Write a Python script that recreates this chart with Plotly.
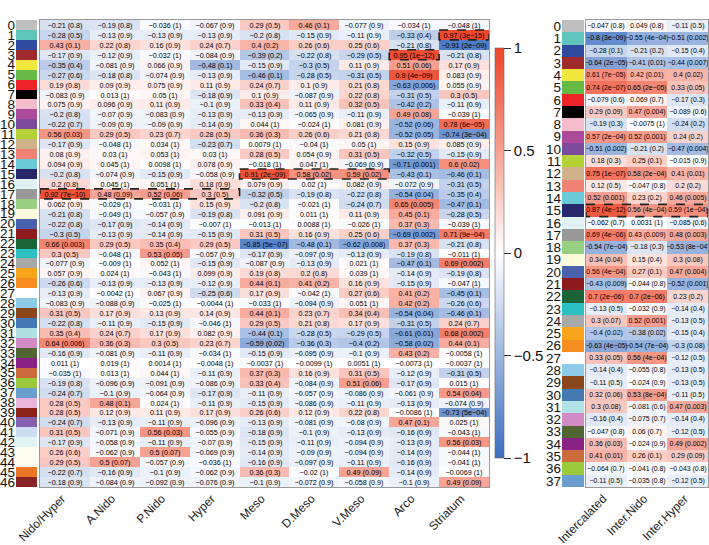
import plotly.graph_objects as go

FONT = "Liberation Sans, Arial, sans-serif"

left_cols = ["Nido/Hyper", "A.Nido", "P.Nido", "Hyper", "Meso", "D.Meso", "V.Meso", "Arco", "Striatum"]
right_cols = ["Intercalated", "Inter.Nido", "Inter.Hyper"]

module_colors = [
    "#BEBEBE", "#5EC4BC", "#2F4B9F", "#9E2A2B", "#F1E63C", "#66BB47", "#EC2227", "#000000",
    "#F4BCCD", "#AE4A9C", "#7D4A9E", "#B4D235", "#D0B38A", "#F08174", "#6ACBD6", "#27286B",
    "#E0F2F4", "#999999", "#99CF81", "#FEFADC", "#4A62AD", "#8C1A1E", "#1A6535", "#2DC0C2",
    "#A8A8A8", "#F9A51C", "#F68B1F", "#FFFFFF", "#8ECBE8", "#8B461B", "#4479B3", "#B2E1E3",
    "#D08BC4", "#506530", "#8A2286", "#CD6B3C", "#9ACA3C", "#6A9ECF", "#EAB4DA", "#8A2418",
    "#8462B0", "#CBDDF3", "#DFF3F2", "#FEFEF0", "#FFFBEF", "#EC7625", "#8A2323",
]

left_r = [
    [-0.21, -0.19, -0.036, -0.067, 0.29, 0.46, -0.077, -0.034, -0.048],
    [-0.28, -0.13, -0.13, -0.13, -0.2, -0.15, -0.11, -0.33, 0.97],
    [0.43, 0.22, 0.16, 0.24, 0.4, 0.26, 0.25, -0.21, -0.91],
    [-0.17, -0.12, -0.032, -0.084, -0.39, -0.22, -0.29, 0.95, -0.21],
    [-0.35, -0.081, 0.066, -0.48, -0.15, -0.3, 0.11, 0.51, 0.17],
    [-0.27, -0.18, -0.074, -0.13, -0.46, -0.28, -0.31, 0.9, 0.083],
    [0.19, 0.09, 0.075, 0.11, 0.24, 0.1, 0.21, -0.63, 0.055],
    [-0.083, 0.013, 0.05, -0.18, 0.1, -0.087, 0.22, -0.31, 0.3],
    [0.075, 0.096, 0.11, -0.1, 0.33, 0.11, 0.32, -0.42, -0.11],
    [-0.2, -0.07, -0.083, -0.13, -0.13, -0.065, -0.11, 0.49, -0.039],
    [-0.22, -0.09, -0.09, -0.14, 0.044, -0.024, 0.081, -0.52, 0.78],
    [0.56, 0.29, 0.23, 0.28, 0.36, 0.26, 0.21, -0.52, -0.74],
    [-0.17, -0.048, 0.034, -0.23, 0.0079, -0.04, 0.05, 0.15, 0.085],
    [0.08, 0.03, 0.053, 0.03, 0.28, 0.054, 0.31, -0.32, -0.15],
    [0.094, 0.045, 0.0098, 0.078, -0.018, 0.047, -0.069, -0.71, 0.6],
    [-0.2, -0.074, -0.15, -0.058, 0.91, 0.58, 0.59, -0.43, -0.46],
    [0.2, 0.045, 0.051, 0.18, 0.079, 0.02, 0.082, -0.072, -0.31],
    [0.92, 0.48, 0.52, 0.3, -0.32, -0.19, -0.22, -0.54, -0.35],
    [0.062, -0.029, -0.031, 0.15, -0.2, -0.021, -0.24, 0.65, -0.47],
    [-0.21, -0.049, -0.057, -0.19, 0.091, 0.011, 0.11, 0.45, -0.28],
    [-0.22, -0.17, -0.14, -0.007, -0.013, 0.0088, -0.026, 0.37, -0.039],
    [-0.3, -0.13, -0.14, -0.15, 0.31, 0.16, 0.25, -0.69, 0.71],
    [0.66, 0.29, 0.35, 0.29, -0.85, -0.48, -0.62, 0.37, -0.21],
    [0.3, -0.048, 0.53, -0.057, -0.17, -0.097, -0.13, -0.19, -0.011],
    [-0.077, -0.009, 0.052, -0.15, -0.087, -0.13, 0.021, -0.47, 0.69],
    [0.057, 0.024, -0.043, 0.099, 0.19, 0.2, 0.039, -0.14, -0.19],
    [-0.26, -0.13, -0.13, -0.12, 0.44, 0.41, 0.16, -0.15, -0.047],
    [-0.13, -0.0042, 0.067, -0.25, 0.17, -0.042, 0.27, 0.41, -0.45],
    [-0.083, -0.088, -0.025, -0.0044, -0.033, -0.094, 0.051, 0.42, -0.26],
    [0.31, 0.17, 0.13, 0.14, 0.44, 0.23, 0.34, -0.54, -0.46],
    [-0.22, -0.11, -0.15, -0.046, 0.29, 0.21, 0.17, -0.31, 0.24],
    [0.35, 0.24, 0.17, 0.082, -0.44, -0.28, -0.29, -0.61, 0.68],
    [0.64, 0.36, 0.3, 0.23, -0.59, -0.36, -0.4, -0.58, 0.44],
    [-0.16, -0.081, -0.11, -0.034, -0.15, -0.095, -0.1, 0.43, -0.0058],
    [0.011, 0.019, 0.0014, -0.0048, -0.0037, -0.0099, 0.0051, -0.0073, -0.0037],
    [-0.035, 0.013, 0.044, -0.11, 0.37, 0.16, 0.31, -0.12, -0.31],
    [-0.19, -0.096, -0.091, -0.086, 0.33, -0.084, 0.51, -0.17, 0.015],
    [-0.24, -0.1, -0.064, -0.17, -0.11, -0.057, -0.086, -0.061, 0.54],
    [0.28, 0.48, 0.024, -0.11, -0.15, -0.086, -0.11, -0.13, -0.074],
    [0.28, 0.12, 0.11, 0.17, 0.26, 0.12, 0.22, -0.0086, -0.73],
    [-0.24, -0.13, -0.11, -0.096, -0.13, -0.081, -0.08, 0.47, 0.025],
    [0.31, -0.071, 0.56, -0.055, -0.18, -0.1, -0.13, -0.16, -0.043],
    [-0.17, -0.058, -0.11, -0.07, -0.15, -0.11, -0.094, -0.13, 0.56],
    [0.26, -0.062, 0.5, -0.069, -0.14, -0.09, -0.094, -0.14, -0.044],
    [0.29, 0.5, -0.057, -0.036, -0.16, -0.097, -0.11, -0.16, -0.041],
    [-0.22, -0.16, -0.1, -0.062, 0.36, -0.02, 0.49, -0.14, -0.0069],
    [-0.18, -0.084, -0.092, -0.076, -0.1, -0.072, -0.058, -0.1, 0.49],
]

left_p = [
    ["0.8", "0.8", "1", "0.9", "0.5", "0.1", "0.9", "1", "1"],
    ["0.5", "0.9", "0.9", "0.9", "0.8", "0.9", "0.9", "0.4", "3e-15"],
    ["0.1", "0.8", "0.9", "0.7", "0.2", "0.6", "0.6", "0.8", "2e-09"],
    ["0.9", "0.9", "1", "0.9", "0.2", "0.8", "0.5", "1e-12", "0.8"],
    ["0.4", "0.9", "0.9", "0.1", "0.9", "0.5", "0.9", "0.06", "0.9"],
    ["0.6", "0.8", "0.9", "0.9", "0.1", "0.5", "0.5", "4e-09", "0.9"],
    ["0.8", "0.9", "0.9", "0.9", "0.7", "0.9", "0.8", "0.006", "0.9"],
    ["0.9", "1", "1", "0.9", "0.9", "0.9", "0.8", "0.5", "0.5"],
    ["0.9", "0.9", "0.9", "0.9", "0.4", "0.9", "0.5", "0.2", "0.9"],
    ["0.8", "0.9", "0.9", "0.9", "0.9", "0.9", "0.9", "0.08", "1"],
    ["0.7", "0.9", "0.9", "0.9", "1", "1", "0.9", "0.06", "6e-05"],
    ["0.03", "0.5", "0.7", "0.5", "0.3", "0.6", "0.8", "0.05", "3e-04"],
    ["0.9", "1", "1", "0.7", "1", "1", "1", "0.9", "0.9"],
    ["0.9", "1", "1", "1", "0.5", "0.9", "0.5", "0.5", "0.9"],
    ["0.9", "1", "1", "0.9", "1", "1", "0.9", "0.001", "0.02"],
    ["0.8", "0.9", "0.9", "0.9", "2e-09", "0.02", "0.02", "0.1", "0.1"],
    ["0.8", "1", "1", "0.9", "0.9", "1", "0.9", "0.9", "0.5"],
    ["7e-10", "0.09", "0.06", "0.5", "0.5", "0.8", "0.8", "0.04", "0.4"],
    ["0.9", "1", "1", "0.9", "0.8", "1", "0.7", "0.005", "0.1"],
    ["0.8", "1", "0.9", "0.8", "0.9", "1", "0.9", "0.1", "0.5"],
    ["0.8", "0.9", "0.9", "1", "1", "1", "1", "0.3", "1"],
    ["0.5", "0.9", "0.9", "0.9", "0.5", "0.9", "0.6", "0.002", "9e-04"],
    ["0.003", "0.5", "0.4", "0.5", "5e-07", "0.1", "0.008", "0.3", "0.8"],
    ["0.5", "1", "0.05", "0.9", "0.9", "0.9", "0.9", "0.8", "1"],
    ["0.9", "1", "1", "0.9", "0.9", "0.9", "1", "0.1", "0.002"],
    ["0.9", "1", "1", "0.9", "0.8", "0.8", "1", "0.9", "0.8"],
    ["0.6", "0.9", "0.9", "0.9", "0.1", "0.2", "0.9", "0.9", "1"],
    ["0.9", "1", "0.9", "0.6", "0.9", "1", "0.6", "0.2", "0.1"],
    ["0.9", "0.9", "1", "1", "1", "0.9", "1", "0.2", "0.6"],
    ["0.5", "0.9", "0.9", "0.9", "0.1", "0.7", "0.4", "0.04", "0.1"],
    ["0.8", "0.9", "0.9", "1", "0.5", "0.8", "0.9", "0.5", "0.7"],
    ["0.4", "0.7", "0.9", "0.9", "0.1", "0.5", "0.5", "0.01", "0.002"],
    ["0.006", "0.3", "0.5", "0.7", "0.02", "0.3", "0.2", "0.02", "0.1"],
    ["0.9", "0.9", "0.9", "1", "0.9", "0.9", "0.9", "0.2", "1"],
    ["1", "1", "1", "1", "1", "1", "1", "1", "1"],
    ["1", "1", "1", "0.9", "0.3", "0.9", "0.5", "0.9", "0.5"],
    ["0.8", "0.9", "0.9", "0.9", "0.4", "0.9", "0.06", "0.9", "1"],
    ["0.7", "0.9", "0.9", "0.9", "0.9", "0.9", "0.9", "0.9", "0.04"],
    ["0.5", "0.1", "1", "0.9", "0.9", "0.9", "0.9", "0.9", "0.9"],
    ["0.5", "0.9", "0.9", "0.9", "0.6", "0.9", "0.8", "1", "5e-04"],
    ["0.7", "0.9", "0.9", "0.9", "0.9", "0.9", "0.9", "0.1", "1"],
    ["0.5", "0.9", "0.03", "0.9", "0.9", "0.9", "0.9", "0.9", "1"],
    ["0.9", "0.9", "0.9", "0.9", "0.9", "0.9", "0.9", "0.9", "0.03"],
    ["0.6", "0.9", "0.07", "0.9", "0.9", "0.9", "0.9", "0.9", "1"],
    ["0.5", "0.07", "0.9", "1", "0.9", "0.9", "0.9", "0.9", "1"],
    ["0.7", "0.9", "0.9", "0.9", "0.3", "1", "0.09", "0.9", "1"],
    ["0.9", "0.9", "0.9", "0.9", "0.9", "0.9", "0.9", "0.9", "0.09"],
]

right_r = [
    [-0.047, 0.049, -0.11], [-0.8, -0.55, -0.51], [-0.28, -0.21, -0.15], [-0.64, -0.41, -0.44],
    [0.61, 0.42, 0.4], [0.74, 0.65, 0.33], [-0.079, 0.069, -0.17], [0.29, 0.47, -0.089],
    [-0.19, -0.0075, -0.24], [0.57, 0.52, 0.24], [-0.51, -0.21, -0.47], [0.18, 0.25, -0.015],
    [0.75, 0.58, 0.41], [0.12, -0.047, 0.2], [0.52, 0.23, 0.46], [0.87, 0.56, 0.59],
    [-0.062, 0.0031, -0.085], [0.69, 0.43, 0.48], [-0.54, -0.18, -0.53], [0.34, 0.15, 0.3],
    [0.56, 0.27, 0.47], [-0.43, -0.044, -0.52], [0.7, 0.7, 0.23], [-0.13, -0.032, -0.14],
    [0.3, 0.52, -0.13], [-0.4, -0.38, -0.15], [-0.63, -0.54, -0.3], [0.33, 0.56, -0.12],
    [-0.14, -0.055, -0.13], [-0.11, -0.024, -0.13], [0.32, 0.53, -0.11], [0.3, -0.081, 0.47],
    [-0.16, -0.075, -0.14], [-0.047, 0.06, -0.12], [0.36, -0.024, 0.49], [0.41, 0.26, 0.29],
    [-0.064, -0.041, -0.043], [-0.11, -0.035, -0.12],
]

right_p = [
    ["0.8", "0.8", "0.5"], ["3e-09", "4e-04", "0.002"], ["0.1", "0.2", "0.4"], ["2e-05", "0.01", "0.007"],
    ["7e-05", "0.01", "0.02"], ["2e-07", "2e-05", "0.05"], ["0.6", "0.7", "0.3"], ["0.09", "0.004", "0.6"],
    ["0.3", "1", "0.2"], ["2e-04", "0.001", "0.2"], ["0.002", "0.2", "0.004"], ["0.3", "0.1", "0.9"],
    ["1e-07", "2e-04", "0.01"], ["0.5", "0.8", "0.2"], ["0.001", "0.2", "0.005"], ["4e-12", "4e-04", "1e-04"],
    ["0.7", "1", "0.6"], ["4e-06", "0.009", "0.003"], ["7e-04", "0.3", "8e-04"], ["0.04", "0.4", "0.08"],
    ["4e-04", "0.1", "0.004"], ["0.009", "0.8", "0.001"], ["2e-06", "2e-06", "0.2"], ["0.5", "0.9", "0.4"],
    ["0.07", "0.001", "0.5"], ["0.02", "0.02", "0.4"], ["4e-05", "7e-04", "0.08"], ["0.05", "4e-04", "0.5"],
    ["0.4", "0.8", "0.5"], ["0.5", "0.9", "0.5"], ["0.06", "8e-04", "0.5"], ["0.08", "0.6", "0.003"],
    ["0.4", "0.7", "0.4"], ["0.8", "0.7", "0.5"], ["0.03", "0.9", "0.002"], ["0.01", "0.1", "0.09"],
    ["0.7", "0.8", "0.8"], ["0.5", "0.8", "0.5"],
]

# highlighted (row, first column, last column)
left_boxes = [(1, 8, 8), (3, 7, 7), (15, 4, 6), (17, 0, 3)]
right_boxes = [(15, 0, 2)]

W, H = 709, 545


def fx(px):
    return px / W


def fy(py):
    return 1 - py / H


def lab(v, p):
    return (str(v) + " (" + p + ")").replace("-", "\u2212")


def labels(r, p):
    return [[lab(r[i][j], p[i][j]) for j in range(len(r[i]))] for i in range(len(r))]


def swatch_scale(cols):
    n = len(cols)
    cs = []
    for i, c in enumerate(cols):
        cs.append([i / n, c])
        cs.append([(i + 1) / n, c])
    return cs


nL = len(left_r)
nR = len(right_r)

fig = go.Figure()
fig.add_trace(go.Heatmap(
    z=left_r, x=list(range(len(left_cols))), y=list(range(nL)),
    text=labels(left_r, left_p), texttemplate="%{text}",
    textfont=dict(family=FONT, size=7.2, color="black"),
    coloraxis="coloraxis", xaxis="x", yaxis="y", hoverinfo="skip"))
fig.add_trace(go.Heatmap(
    z=[[i] for i in range(nL)], x=[0], y=list(range(nL)),
    colorscale=swatch_scale(module_colors[:nL]), zmin=-0.5, zmax=nL - 0.5,
    showscale=False, xaxis="x2", yaxis="y2", hoverinfo="skip"))
fig.add_trace(go.Heatmap(
    z=right_r, x=list(range(len(right_cols))), y=list(range(nR)),
    text=labels(right_r, right_p), texttemplate="%{text}",
    textfont=dict(family=FONT, size=6.9, color="black"),
    coloraxis="coloraxis", xaxis="x3", yaxis="y3", hoverinfo="skip"))
fig.add_trace(go.Heatmap(
    z=[[i] for i in range(nR)], x=[0], y=list(range(nR)),
    colorscale=swatch_scale(module_colors[:nR]), zmin=-0.5, zmax=nR - 0.5,
    showscale=False, xaxis="x4", yaxis="y4", hoverinfo="skip"))

shapes = []
for (r, c0, c1) in left_boxes:
    shapes.append(dict(type="rect", xref="x", yref="y", x0=c0 - 0.5, x1=c1 + 0.5,
                       y0=r - 0.5, y1=r + 0.5, line=dict(color="#222", width=1.6, dash="dash")))
for (r, c0, c1) in right_boxes:
    shapes.append(dict(type="rect", xref="x3", yref="y3", x0=c0 - 0.5, x1=c1 + 0.5,
                       y0=r - 0.5, y1=r + 0.5, line=dict(color="#222", width=1.6, dash="dash")))

ydom = [fy(487), fy(20)]
tickfont = dict(family=FONT, size=12, color="#222")
rowfont = dict(family=FONT, size=13.5, color="#111")
frame = dict(showline=True, linecolor="#999", linewidth=1, mirror=True, automargin=False,
             showgrid=False, zeroline=False)
plain = dict(automargin=False, showgrid=False, zeroline=False, ticks="")
xlab = dict(tickangle=-45, ticklabelshift=-3, ticklabelstandoff=-1, tickfont=tickfont, ticks="")

fig.update_layout(
    template="none",
    width=W, height=H, margin=dict(l=0, r=0, t=0, b=0, autoexpand=False),
    paper_bgcolor="white", plot_bgcolor="white", font=dict(family=FONT),
    shapes=shapes,
    coloraxis=dict(
        cmin=-1, cmax=1,
        colorscale=[[0, "#3B6EC0"], [0.5, "#FFFFFF"], [1, "#EE4326"]],
        colorbar=dict(
            x=fx(495), xanchor="left", xpad=0, y=fy(253), yanchor="middle", ypad=0,
            len=410 / H, lenmode="fraction", thickness=9, thicknessmode="pixels",
            outlinewidth=0.6, outlinecolor="#666",
            tickvals=[-1, -0.5, 0, 0.5, 1], ticktext=["\u22121", "\u22120.5", "0", "0.5", "1"],
            ticks="outside", ticklen=7, tickcolor="#333",
            tickfont=dict(family=FONT, size=15, color="#111"),
        ),
    ),
    xaxis=dict(domain=[fx(40), fx(489)], anchor="y", range=[-0.5, len(left_cols) - 0.5],
               tickvals=list(range(len(left_cols))), ticktext=left_cols, **xlab, **frame),
    yaxis=dict(domain=ydom, anchor="x", range=[nL - 0.5, -0.5], showticklabels=False, ticks="", **frame),
    xaxis2=dict(domain=[fx(16), fx(37)], anchor="y2", range=[-0.5, 0.5], showticklabels=False, **plain),
    yaxis2=dict(domain=ydom, anchor="x2", range=[nL - 0.5, -0.5], tickvals=list(range(nL)),
                ticktext=[str(i) for i in range(nL)], tickfont=rowfont, **plain),
    xaxis3=dict(domain=[fx(586), fx(708)], anchor="y3", range=[-0.5, len(right_cols) - 0.5],
                tickvals=list(range(len(right_cols))), ticktext=right_cols, **xlab, **frame),
    yaxis3=dict(domain=ydom, anchor="x3", range=[nR - 0.5, -0.5], showticklabels=False, ticks="", **frame),
    xaxis4=dict(domain=[fx(562), fx(584)], anchor="y4", range=[-0.5, 0.5], showticklabels=False, **plain),
    yaxis4=dict(domain=ydom, anchor="x4", range=[nR - 0.5, -0.5], tickvals=list(range(nR)),
                ticktext=[str(i) for i in range(nR)], tickfont=rowfont, **plain),
)

fig.write_html(
    "out.html",
    config={"displayModeBar": False, "staticPlot": True},
    post_script="document.body.style.margin = '0'; document.body.style.overflow = 'hidden';",
)
